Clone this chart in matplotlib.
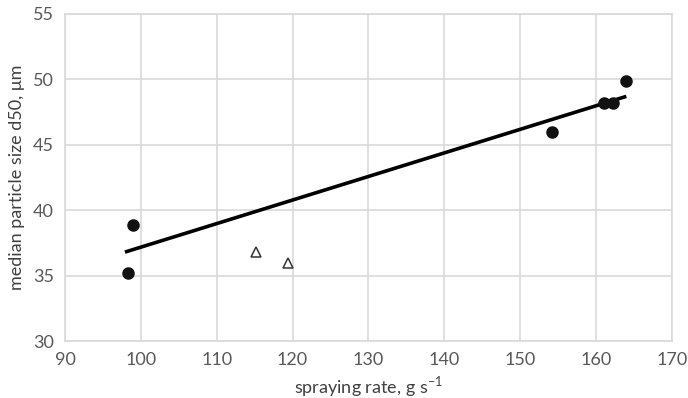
import matplotlib.pyplot as plt

plt.rcParams['font.family'] = ['Lato', 'DejaVu Sans']

# measured runs (filled circles)
rate = [98.3, 98.9, 154.2, 161.1, 162.3, 163.9]
d50 = [35.2, 38.9, 46.0, 48.2, 48.2, 49.9]

# runs outside the trend (open triangles)
rate_tri = [115.2, 119.4]
d50_tri = [36.8, 36.0]

# linear trend through the circles
trend_x = [97.9, 164.0]
trend_y = [36.8, 48.7]

xticks = [90, 100, 110, 120, 130, 140, 150, 160, 170]
yticks = [30, 35, 40, 45, 50, 55]

fig = plt.figure(figsize=(6.88, 3.98), dpi=100)
ax = fig.add_axes([0.0945, 0.143, 0.882, 0.822])

grid_c = '#d9d9d9'
text_c = '#595959'

ax.plot(trend_x, trend_y, color='black', lw=2.6, solid_capstyle='butt', zorder=3)
ax.plot(rate, d50, 'o', color='#111111', ms=8, zorder=4)
ax.plot(rate_tri, d50_tri, '^', mfc='white', mec='#333333', mew=1.1, ms=7.5, zorder=4)

ax.set_xlim(90, 170)
ax.set_ylim(30, 55)
ax.set_xticks(xticks)
ax.set_yticks(yticks)
ax.grid(True, color=grid_c, lw=1.2)
ax.set_axisbelow(True)
for s in ax.spines.values():
    s.set_color(grid_c)
    s.set_linewidth(1.2)

ax.tick_params(length=0, labelsize=13, labelcolor=text_c, pad=8)
ax.set_xlabel('spraying rate, g s$^{\\mathdefault{-1}}$', fontsize=13, color='#404040', labelpad=4)
ax.set_ylabel('median particle size d50, μm', fontsize=13, color='#404040', labelpad=6)

fig.savefig('out.png', dpi=100)
